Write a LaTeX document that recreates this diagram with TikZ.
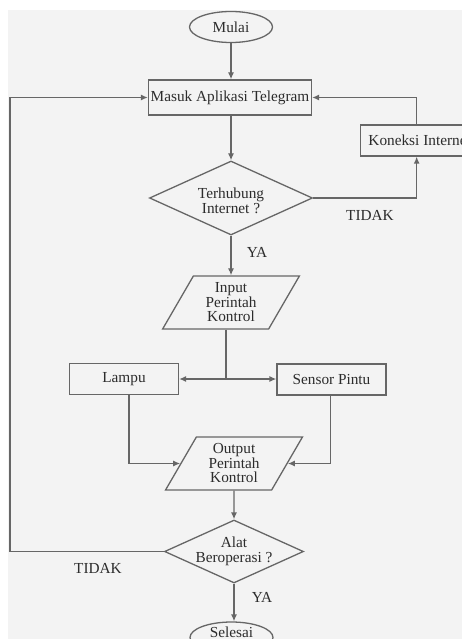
\documentclass[tikz,border=0pt]{standalone}
\usepackage{fontspec}
\setmainfont{Liberation Serif}
\usetikzlibrary{shapes.geometric,arrows.meta}
\definecolor{bgc}{HTML}{F3F3F3}
\definecolor{lnc}{HTML}{666666}
\definecolor{txc}{HTML}{2C2C2C}
\begin{document}
\begin{tikzpicture}[x=1pt,y=-1pt,
  every node/.style={font=\fontsize{15.3}{14.5}\selectfont, text=txc},
  box/.style={draw=lnc, line width=1.3pt, rectangle, inner sep=0pt},
  term/.style={draw=lnc, line width=1.3pt, ellipse, inner sep=0pt, minimum width=83pt, minimum height=31pt},
  dec/.style={draw=lnc, line width=1.3pt, diamond, inner sep=0pt},
  para/.style={draw=lnc, line width=1.3pt, trapezium, trapezium left angle=62, trapezium right angle=118,
    trapezium stretches=true, inner sep=0pt, minimum width=138pt, minimum height=53pt, align=center},
  conn/.style={draw=lnc, line width=1.3pt},
  arr/.style={draw=lnc, line width=1.3pt, -{Latex[length=7pt,width=6pt]}},
  lbl/.style={inner sep=0pt}
]
\useasboundingbox (0,0) rectangle (462,639);
\fill[white] (0,0) rectangle (462,639);
\fill[bgc] (8,10) rectangle (462,639);
\clip (0,0) rectangle (462,639);

\node[term] (mulai) at (231,27) {Mulai};
\node[box, minimum width=163pt, minimum height=35pt] (masuk) at (230,97.5) {Masuk Aplikasi Telegram};
\node[box, minimum width=112pt, minimum height=31pt, anchor=west,
  label={[xshift=3pt]center:{Koneksi Internet}}] (kon) at (360,140.5) {};
\node[dec, minimum width=163pt, minimum height=74pt,
  label={[align=center, yshift=-3pt]center:{Terhubung\\Internet ?}}] (d1) at (231,198) {};
\node[para] (inp) at (231,302.5) {Input\\Perintah\\Kontrol};
\node[box, minimum width=109pt, minimum height=31pt] (lampu) at (124,379) {Lampu};
\node[box, minimum width=109pt, minimum height=31pt] (sensor) at (331.5,379.5) {Sensor Pintu};
\node[para] (out) at (234,463.5) {Output\\Perintah\\Kontrol};
\node[dec, minimum width=139pt, minimum height=63pt,
  label={[align=center]center:{Alat\\Beroperasi ?}}] (d2) at (234,551.5) {};
\node[term, label={[yshift=5pt]center:{Selesai}}] (sel) at (231.5,637.5) {};

\node[lbl] (t1) at (370,215) {TIDAK};
\node[lbl] (y1) at (257,252) {YA};
\node[lbl] (t2) at (98,568) {TIDAK};
\node[lbl] (y2) at (262,597) {YA};

\coordinate (lx) at (10,0);

\draw[arr] (mulai.south) -- (masuk.north -| mulai.south);
\draw[arr] (masuk.south -| d1.north) -- (d1.north);
\draw[arr] (d1.east) -| (kon.south);
\draw[arr] (kon.north) |- (masuk.east);
\draw[arr] (d1.south) -- (inp.north -| d1.south);
\draw[conn] ([xshift=-5pt]inp.south) -- ([xshift=-5pt]inp.south |- lampu.east) coordinate (j);
\draw[arr] (j) -- (lampu.east);
\draw[arr] (j) -- (sensor.west |- j);
\draw[arr] ([xshift=5pt]lampu.south) |- (out);
\draw[arr] ([xshift=-1pt]sensor.south) |- (out);
\draw[arr] (out.south) -- (d2.north);
\draw[arr] (d2.south) -- (d2.south |- sel.north);
\draw[arr] (d2.west) -- (d2.west -| lx) |- (masuk.west);
\end{tikzpicture}
\end{document}
